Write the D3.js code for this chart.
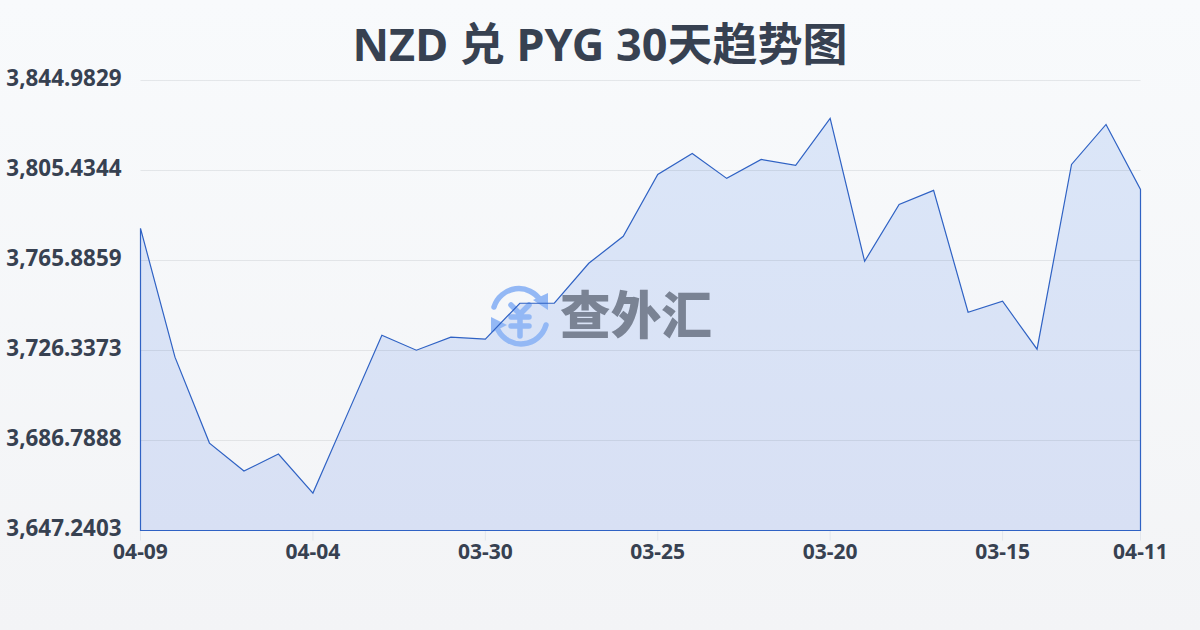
<!DOCTYPE html>
<html><head><meta charset="utf-8">
<script src="https://cdn.jsdelivr.net/npm/d3@7"></script>
<style>html,body{margin:0;padding:0;width:1200px;height:630px;overflow:hidden}svg{display:block}</style>
</head><body><svg id="c" width="1200" height="630"></svg>
<script>
const titleText = "NZD 兑 PYG 30天趋势图";
const dates = ["04-09","04-08","04-07","04-06","04-05","04-04","04-03","04-02","04-01","03-31","03-30","03-29","03-28","03-27","03-26","03-25","03-24","03-23","03-22","03-21","03-20","03-19","03-18","03-17","03-16","03-15","03-14","03-13","03-12","04-11"];
const rates = [3780.02,3723.40,3685.65,3673.36,3680.82,3663.70,3698.38,3733.05,3726.47,3732.17,3731.30,3747.10,3747.10,3764.66,3776.51,3803.72,3812.94,3801.97,3810.31,3807.67,3828.30,3765.53,3790.55,3796.70,3743.15,3747.98,3726.91,3808.11,3825.67,3797.14];
const xTickLabels = ["04-09","04-04","03-30","03-25","03-20","03-15","04-11"];
const yTickValues = [3647.2403,3686.7888,3726.3373,3765.8859,3805.4344,3844.9829];

const svg = d3.select("#c");
const defs = svg.append("defs");
const bg = defs.append("linearGradient").attr("id","bg").attr("x1",0).attr("y1",0).attr("x2",0).attr("y2",1);
bg.append("stop").attr("offset",0).attr("stop-color","#f8fafc");
bg.append("stop").attr("offset",1).attr("stop-color","#f3f4f6");
const fillG = defs.append("linearGradient").attr("id","fillG").attr("x1",0).attr("y1",0).attr("x2",0).attr("y2",1);
fillG.append("stop").attr("offset",0).attr("stop-color","#dbe6f8");
fillG.append("stop").attr("offset",1).attr("stop-color","#d8e0f4");

svg.append("rect").attr("width",1200).attr("height",630).attr("fill","url(#bg)");

const x = d3.scalePoint().domain(dates).range([140.5,1140.5]);
const y = d3.scaleLinear().domain([yTickValues[0],yTickValues[5]]).range([530.5,80.5]);
const font = "'Noto Sans','Noto Sans CJK SC',sans-serif";

svg.append("text").attr("x",600).attr("y",61).attr("text-anchor","middle")
  .attr("font-family",font).attr("font-weight",700).attr("font-size",45).attr("fill","#374151").text(titleText);

const area = d3.area().x((d,i)=>x(dates[i])).y0(y(yTickValues[0])).y1(d=>y(d));
const line = d3.line().x((d,i)=>x(dates[i])).y(d=>y(d));

svg.append("path").datum(rates).attr("d",area).attr("fill","url(#fillG)");

const yAxis = d3.axisLeft(y).offset(0).tickValues(yTickValues).tickSize(-1000).tickPadding(19).tickFormat(d3.format(",.4f"));
const gy = svg.append("g").attr("transform","translate(140.5,0)").call(yAxis);
gy.select(".domain").remove();
gy.selectAll("line").attr("stroke","#374151").attr("stroke-opacity",0.1).attr("stroke-width",1);
gy.selectAll("text").attr("font-family",font).attr("font-weight",700).attr("font-size",22.4).attr("fill","#374151").attr("dy","0.25em");

const xAxis = d3.axisBottom(x).offset(0).tickValues(dates.filter((d,i)=>xTickLabels.includes(d)&&(i%5===0||i===dates.length-1))).tickSize(10).tickPadding(4);
const gx = svg.append("g").attr("transform","translate(0,530.5)").call(xAxis);
gx.select(".domain").remove();
gx.selectAll("line").attr("stroke","#e2e6ec");
gx.selectAll("text").attr("font-family",font).attr("font-weight",700).attr("font-size",21).attr("fill","#374151");

const wm = svg.append("g").attr("transform","translate(491,286)");
const logoBlue = "#93b8f5";
wm.append("path").attr("d","M3 21 A 26 26 0 0 1 50 15").attr("fill","none").attr("stroke",logoBlue).attr("stroke-width",5.5).attr("stroke-linecap","round");
wm.append("path").attr("d","M42 14 L57 7 L57 24 Z").attr("fill",logoBlue);
wm.append("path").attr("d","M55 39 A 26 26 0 0 1 7 44").attr("fill","none").attr("stroke",logoBlue).attr("stroke-width",5.5).attr("stroke-linecap","round");
wm.append("path").attr("d","M0 31 L16 39 L0 47 Z").attr("fill",logoBlue);
wm.append("path").attr("d","M20 19 L29 28 L38 19 M20 31 H38 M20 40 H38 M29 28 V50").attr("fill","none").attr("stroke",logoBlue).attr("stroke-width",5.5).attr("stroke-linecap","round");
svg.append("text").attr("x",560).attr("y",334).attr("textLength",152).attr("lengthAdjust","spacingAndGlyphs")
  .attr("font-family","'Noto Sans CJK SC',sans-serif").attr("font-weight",900).attr("font-size",51).attr("fill","#7a8394").text("查外汇");

svg.append("path").datum(rates).attr("d",d=>line(d)+`L${x.range()[1]},${y(yTickValues[0])}L${x.range()[0]},${y(yTickValues[0])}Z`)
  .attr("fill","none").attr("stroke","#2f62c4").attr("stroke-width",1.2);
</script></body></html>
